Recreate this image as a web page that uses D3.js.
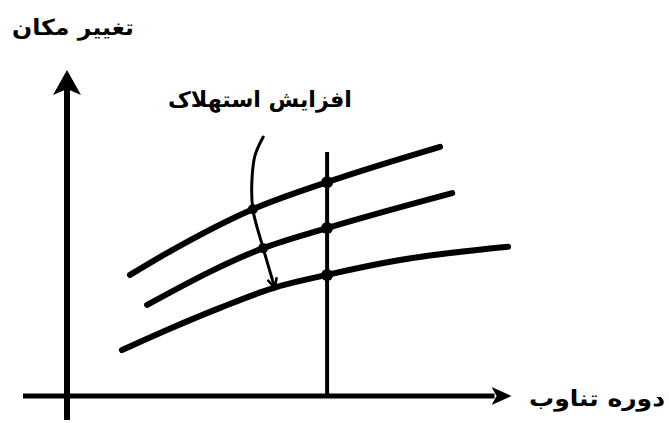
<!DOCTYPE html>
<html>
<head>
<meta charset="utf-8">
<script src="https://cdn.jsdelivr.net/npm/d3@7"></script>
<style>
  body { margin: 0; background: #fff; }
  text { font-family: "DejaVu Sans", sans-serif; font-weight: bold; fill: #000; }
</style>
</head>
<body>
<script>
// curves (x = period, y = displacement), three damping levels
var lowDamping = [[1.40, 3.67], [2.22, 4.33], [4.13, 5.66], [5.78, 6.48], [8.29, 7.55]]
var midDamping = [[1.78, 2.76], [4.36, 4.48], [5.78, 5.09], [8.56, 6.15]]
var highDamping = [[1.22, 1.39], [2.22, 2.00], [3.40, 2.67], [4.58, 3.27], [5.78, 3.67], [7.40, 4.12], [9.80, 4.52]]

// vertical cut and the points where it meets the curves
var cutPeriod = 5.78
var cutPoints = [6.48, 5.09, 3.67]

// the "increasing damping" arrow
var dampArrow = [[4.36, 7.85], [4.18, 7.30], [4.11, 6.55], [4.13, 5.66], [4.36, 4.48], [4.62, 3.27]]
var dampDots = [[4.13, 5.66], [4.36, 4.48]]

var yLabel = "تغییر مکان"
var xLabel = "دوره تناوب"
var arrowLabel = "افزایش استهلاک"

var width = 669, height = 423

var svg = d3.select("body")
  .append("svg")
  .attr("width", width)
  .attr("height", height)

var xScale = d3.scaleLinear().domain([0, 10]).range([67, 517])
var yScale = d3.scaleLinear().domain([0, 10]).range([396, 66])

//axes
svg.append("line")
  .attr("x1", 23).attr("x2", xScale(9.5))
  .attr("y1", yScale(0)).attr("y2", yScale(0))
  .attr("stroke", "#000").attr("stroke-width", 5)

svg.append("line")
  .attr("x1", xScale(0)).attr("x2", xScale(0))
  .attr("y1", 420).attr("y2", yScale(9.5))
  .attr("stroke", "#000").attr("stroke-width", 6)

//arrow heads
var xTip = [xScale(9.88), yScale(0)]
svg.append("path")
  .attr("d", "M" + xTip[0] + "," + xTip[1] +
    " L" + (xTip[0] - 20) + "," + (xTip[1] - 9) +
    " L" + (xTip[0] - 15) + "," + xTip[1] +
    " L" + (xTip[0] - 20) + "," + (xTip[1] + 9) + "Z")
  .attr("fill", "#000")

var yTip = [xScale(0), yScale(9.88)]
svg.append("path")
  .attr("d", "M" + yTip[0] + "," + yTip[1] +
    " L" + (yTip[0] + 14) + "," + (yTip[1] + 25) +
    " L" + yTip[0] + "," + (yTip[1] + 19) +
    " L" + (yTip[0] - 14) + "," + (yTip[1] + 25) + "Z")
  .attr("fill", "#000")

//curves
var line = d3.line()
  .x(function (d) { return xScale(d[0]) })
  .y(function (d) { return yScale(d[1]) })
  .curve(d3.curveMonotoneX)

svg.selectAll(".curve")
  .data([lowDamping, midDamping, highDamping])
  .enter().append("path")
  .attr("class", "curve")
  .attr("d", line)
  .attr("fill", "none")
  .attr("stroke", "#000")
  .attr("stroke-width", 6)
  .attr("stroke-linecap", "round")

//vertical cut
svg.append("line")
  .attr("x1", xScale(cutPeriod)).attr("x2", xScale(cutPeriod))
  .attr("y1", 152).attr("y2", yScale(0))
  .attr("stroke", "#000").attr("stroke-width", 4)

svg.selectAll(".cut")
  .data(cutPoints)
  .enter().append("circle")
  .attr("cx", xScale(cutPeriod))
  .attr("cy", function (d) { return yScale(d) })
  .attr("r", 6)
  .attr("fill", "#000")

//damping arrow (curve through its points)
var arrowLine = d3.line()
  .x(function (d) { return xScale(d[0]) })
  .y(function (d) { return yScale(d[1]) })
  .curve(d3.curveCatmullRom)

svg.append("path")
  .datum(dampArrow)
  .attr("d", arrowLine)
  .attr("fill", "none")
  .attr("stroke", "#000")
  .attr("stroke-width", 3)
  .attr("stroke-linecap", "round")

var a = dampArrow[dampArrow.length - 1], b = dampArrow[dampArrow.length - 2]
var tx = xScale(a[0]), ty = yScale(a[1])
var ang = Math.atan2(ty - yScale(b[1]), tx - xScale(b[0]))
svg.append("path")
  .attr("d", "M" + (tx - 11 * Math.cos(ang - 0.45)) + "," + (ty - 11 * Math.sin(ang - 0.45)) +
    " L" + tx + "," + ty +
    " L" + (tx - 11 * Math.cos(ang + 0.45)) + "," + (ty - 11 * Math.sin(ang + 0.45)))
  .attr("fill", "none")
  .attr("stroke", "#000")
  .attr("stroke-width", 2.5)

svg.selectAll(".dd")
  .data(dampDots)
  .enter().append("circle")
  .attr("cx", function (d) { return xScale(d[0]) })
  .attr("cy", function (d) { return yScale(d[1]) })
  .attr("r", 5)
  .attr("fill", "#000")

//labels
svg.append("text")
  .attr("x", 73).attr("y", 35)
  .attr("text-anchor", "middle")
  .attr("textLength", 122)
  .attr("lengthAdjust", "spacingAndGlyphs")
  .style("font-size", "22px")
  .text(yLabel)

svg.append("text")
  .attr("x", 260).attr("y", 107)
  .attr("text-anchor", "middle")
  .attr("textLength", 184)
  .attr("lengthAdjust", "spacingAndGlyphs")
  .style("font-size", "22px")
  .text(arrowLabel)

svg.append("text")
  .attr("x", 597).attr("y", 406)
  .attr("text-anchor", "middle")
  .attr("textLength", 136)
  .attr("lengthAdjust", "spacingAndGlyphs")
  .style("font-size", "22px")
  .text(xLabel)
</script>
</body>
</html>
